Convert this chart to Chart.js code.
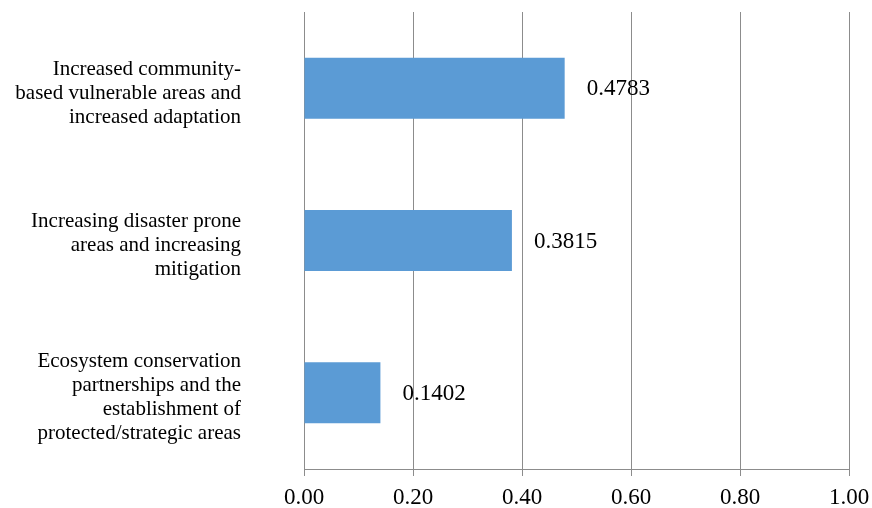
<!DOCTYPE html>
<html>
<head>
<meta charset="utf-8">
<script src="https://cdn.jsdelivr.net/npm/chart.js@4/dist/chart.umd.min.js"></script>
<style>
  html, body { margin: 0; padding: 0; background: #ffffff; }
  #wrap { width: 872px; height: 508px; position: relative; }
</style>
</head>
<body>
<div id="wrap"><canvas id="chart" width="872" height="508"></canvas></div>
<script>
// Factor labels (each entry is a list of wrapped lines)
const categories = [
  ["Increased community-", "based vulnerable areas and", "increased adaptation"],
  ["Increasing disaster prone", "areas and increasing", "mitigation"],
  ["Ecosystem conservation", "partnerships and the", "establishment of", "protected/strategic areas"]
];
// Weight of each factor
const weights = [0.4783, 0.3815, 0.1402];
// Value axis ticks
const xTicks = [0.00, 0.20, 0.40, 0.60, 0.80, 1.00];

const SERIF = '"Liberation Serif", "Times New Roman", serif';
const GRID = '#8c8c8c';

// Writes each bar's value just past its end
const valueLabels = {
  id: 'valueLabels',
  afterDatasetsDraw(chart) {
    const ctx = chart.ctx;
    const meta = chart.getDatasetMeta(0);
    ctx.save();
    ctx.font = '23px ' + SERIF;
    ctx.fillStyle = '#000000';
    ctx.textAlign = 'left';
    ctx.textBaseline = 'middle';
    meta.data.forEach((bar, i) => {
      ctx.fillText(weights[i].toFixed(4), bar.x + 22, bar.y + 1);
    });
    ctx.restore();
  }
};

new Chart(document.getElementById('chart'), {
  type: 'bar',
  data: {
    labels: categories,
    datasets: [{
      data: weights,
      backgroundColor: '#5b9bd5',
      borderWidth: 0,
      barPercentage: 0.4,
      categoryPercentage: 1.0
    }]
  },
  options: {
    indexAxis: 'y',
    responsive: false,
    animation: false,
    devicePixelRatio: 1,
    layout: { padding: { top: 12, right: 23, left: 0, bottom: 0 } },
    plugins: {
      legend: { display: false },
      tooltip: { enabled: false }
    },
    scales: {
      x: {
        min: 0,
        max: 1,
        afterBuildTicks(scale) {
          scale.ticks = xTicks.map(v => ({ value: v }));
        },
        afterFit(scale) {
          scale.height = 39;
          scale.paddingLeft = 0;
          scale.paddingRight = 0;
        },
        grid: {
          color: GRID,
          lineWidth: 1,
          drawTicks: true,
          tickLength: 7,
          tickColor: GRID
        },
        border: { display: true, color: GRID, width: 1 },
        ticks: {
          color: '#000000',
          font: { family: SERIF, size: 23 },
          padding: 8,
          maxRotation: 0,
          callback: (v) => Number(v).toFixed(2)
        }
      },
      y: {
        afterFit(scale) {
          scale.width = 304;
          scale.paddingTop = 0;
          scale.paddingBottom = 0;
        },
        grid: { display: false, drawTicks: false },
        border: { display: true, color: GRID, width: 1 },
        ticks: {
          color: '#000000',
          font: { family: SERIF, size: 21, lineHeight: 1.14 },
          padding: 63,
          labelOffset: 5,
          crossAlign: 'near'
        }
      }
    }
  },
  plugins: [valueLabels]
});
</script>
</body>
</html>
